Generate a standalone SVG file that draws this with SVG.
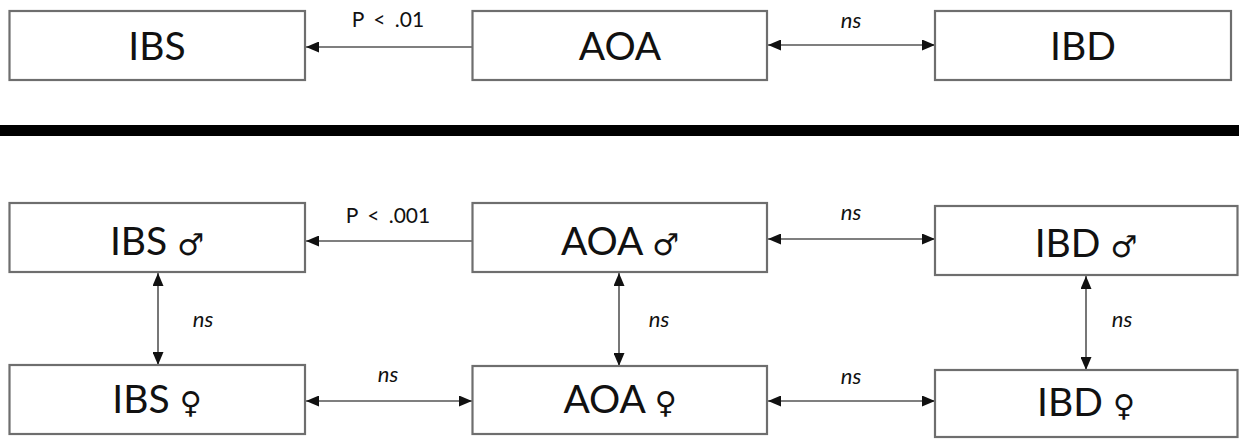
<svg xmlns="http://www.w3.org/2000/svg" width="1239" height="439" viewBox="0 0 1239 439">
<style>
.box{fill:#fff;stroke:#6e6e6e;stroke-width:2.2}
.lbl{font-family:Lato,"DejaVu Sans",sans-serif;font-size:39px;fill:#111;text-anchor:middle}
.sym{font-family:"DejaVu Sans",sans-serif;font-size:30px}
.ns{font-family:Lato,"Liberation Sans",sans-serif;font-size:22px;font-style:italic;fill:#111;text-anchor:middle}
.p{font-family:Lato,"Liberation Sans",sans-serif;font-size:21px;fill:#111;text-anchor:middle;word-spacing:4px}
.c{stroke:#555;stroke-width:1.6;fill:none}
.one{marker-end:url(#ah)}
.two{marker-start:url(#ah);marker-end:url(#ah)}
</style>
<defs>
<marker id="ah" markerUnits="userSpaceOnUse" markerWidth="13" markerHeight="11" refX="13" refY="5.5" orient="auto-start-reverse" viewBox="0 0 13 11">
<path d="M0,0 L13,5.5 L0,11 z" fill="#111"/>
</marker>
</defs>
<rect x="0" y="125" width="1239" height="11" fill="#000"/>
<g id="connectors">
<line class="c one" x1="472" y1="47" x2="306" y2="47"/>
<line class="c two" x1="768" y1="45" x2="935" y2="45"/>
<line class="c one" x1="472" y1="241" x2="306" y2="241"/>
<line class="c two" x1="768" y1="239" x2="935" y2="239"/>
<line class="c two" x1="158" y1="273" x2="158" y2="365"/>
<line class="c two" x1="619" y1="273" x2="619" y2="366"/>
<line class="c two" x1="1086" y1="276" x2="1086" y2="370"/>
<line class="c two" x1="306" y1="401" x2="472" y2="401"/>
<line class="c two" x1="768" y1="401" x2="935" y2="401"/>
<text class="p" x="388" y="27">P &lt; .01</text>
<text class="ns" x="851" y="28">ns</text>
<text class="p" x="388" y="223">P &lt; .001</text>
<text class="ns" x="851" y="220">ns</text>
<text class="ns" x="203" y="327">ns</text>
<text class="ns" x="659" y="327">ns</text>
<text class="ns" x="1122" y="327">ns</text>
<text class="ns" x="388" y="382">ns</text>
<text class="ns" x="851" y="384">ns</text>
</g>
<g id="IBS"><rect class="box" x="9.5" y="11" width="295.5" height="69"/><text class="lbl" x="157" y="60">IBS</text></g>
<g id="AOA"><rect class="box" x="472.5" y="11" width="294.5" height="69"/><text class="lbl" x="620" y="60">AOA</text></g>
<g id="IBD"><rect class="box" x="935" y="11" width="296" height="69"/><text class="lbl" x="1083" y="60">IBD</text></g>
<g id="IBS_m"><rect class="box" x="9.5" y="203" width="295.5" height="69"/><text class="lbl" x="157" y="255">IBS <tspan class="sym">♂</tspan></text></g>
<g id="AOA_m"><rect class="box" x="472.5" y="203" width="294.5" height="69"/><text class="lbl" x="620" y="255">AOA <tspan class="sym">♂</tspan></text></g>
<g id="IBD_m"><rect class="box" x="935" y="206" width="302.5" height="69"/><text class="lbl" x="1086" y="257">IBD <tspan class="sym">♂</tspan></text></g>
<g id="IBS_f"><rect class="box" x="9.5" y="365" width="295.5" height="69"/><text class="lbl" x="157" y="413">IBS <tspan class="sym">♀</tspan></text></g>
<g id="AOA_f"><rect class="box" x="472.5" y="366" width="294.5" height="68"/><text class="lbl" x="620" y="413">AOA <tspan class="sym">♀</tspan></text></g>
<g id="IBD_f"><rect class="box" x="935" y="370" width="302.5" height="67"/><text class="lbl" x="1086" y="416">IBD <tspan class="sym">♀</tspan></text></g>
</svg>
